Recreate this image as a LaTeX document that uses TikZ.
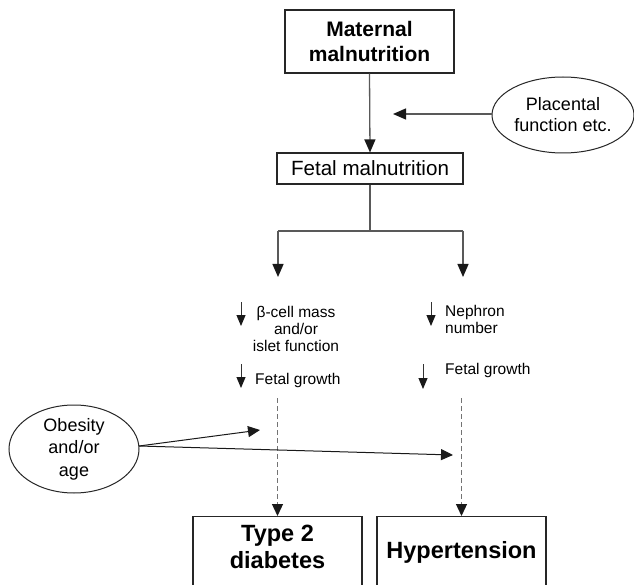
\documentclass[tikz,border=0pt]{standalone}
\usepackage{fontspec}
\setmainfont{Liberation Sans}
\usetikzlibrary{arrows.meta,shapes.geometric}
\tikzset{
  boxnode/.style={draw=black!85, line width=1.1pt, inner sep=0pt},
  ellnode/.style={draw=black!85, line width=1pt, ellipse, inner sep=0pt},
  conn/.style={draw=black!65, line width=1.3pt},
  arr/.style={conn, -{Triangle[length=13pt,width=11pt,color=black!90]}},
  smallarr/.style={draw=black!80, line width=1pt, -{Triangle[length=11pt,width=9pt,color=black!90]}},
  dasharr/.style={draw=black!55, line width=1.3pt, dash pattern=on 5pt off 3pt, -{Triangle[length=12pt,width=11pt,color=black!90]}},
  obarr/.style={draw=black!90, line width=1pt, -{Triangle[length=12pt,width=11pt,color=black!90]}},
  bigbold/.style={font=\fontsize{21}{25}\selectfont\bfseries, align=center},
  biggerbold/.style={font=\fontsize{23.5}{27}\selectfont\bfseries, align=center},
  midtext/.style={font=\fontsize{20.6}{24}\selectfont, align=center},
  elltext/.style={font=\fontsize{18}{21}\selectfont, align=center},
  smalltext/.style={font=\fontsize{15.5}{17}\selectfont},
}
\begin{document}
\begin{tikzpicture}[x=1pt,y=-1pt]
\clip (0,0) rectangle (634,585);
\fill[white] (0,0) rectangle (634,585);

% top boxes
\node[boxnode, bigbold, minimum width=169pt, minimum height=63pt] (mat) at (369.5,41.5) {Maternal\\malnutrition};
\node[boxnode, midtext, minimum width=186pt, minimum height=31pt] (fet) at (370,168.5) {Fetal malnutrition};
\node[ellnode, elltext, minimum width=142pt, minimum height=76pt] (plac) at (563,115) {Placental\\function etc.};
\coordinate (platip) at (393,114);

\draw[arr] (mat.south) -- (fet.north);
\draw[arr] (plac.west |- platip) -- (platip);

% branch
\coordinate (br) at (370,231);
\coordinate (brL) at (278,231);
\coordinate (brR) at (463,231);
\coordinate (tipL) at (278,277);
\coordinate (tipR) at (463,277);
\draw[conn] (fet.south) -- (br);
\draw[conn] (brL) -- (brR);
\draw[arr] (brL) -- (tipL);
\draw[arr] (brR) -- (tipR);

% left column texts
\coordinate (s1a) at (241,302); \coordinate (s1b) at (241,326);
\draw[smallarr] (s1a) -- (s1b);
\node[smalltext, align=center] (beta) at (296,328.5) {β-cell mass\\and/or\\islet function};
\coordinate (s2a) at (241,364); \coordinate (s2b) at (241,388);
\draw[smallarr] (s2a) -- (s2b);
\node[smalltext, anchor=west, inner sep=0pt] (fgL) at (255,380) {Fetal growth};

% right column texts
\coordinate (s3a) at (431,302); \coordinate (s3b) at (431,326);
\draw[smallarr] (s3a) -- (s3b);
\node[smalltext, align=left, anchor=west, inner sep=0pt] (neph) at (445,319.5) {Nephron\\number};
\coordinate (s4a) at (423,364); \coordinate (s4b) at (423,389);
\draw[smallarr] (s4a) -- (s4b);
\node[smalltext, anchor=west, inner sep=0pt] (fgR) at (445,370) {Fetal growth};

% bottom boxes
\node[boxnode, minimum width=169pt, minimum height=80pt, anchor=north] (t2) at (277.5,516) {};
\node[biggerbold] (t2txt) at (277.5,546.5) {Type 2\\diabetes};
\node[boxnode, minimum width=169pt, minimum height=80pt, anchor=north] (hyp) at (461.5,516) {};
\node[biggerbold] (hyptxt) at (461.5,552) {Hypertension};

\coordinate (dL) at (277.5,398);
\coordinate (dR) at (461.5,398);
\draw[dasharr] (dL) -- (t2.north);
\draw[dasharr] (dR) -- (hyp.north);

% obesity
\node[ellnode, elltext, minimum width=130pt, minimum height=88pt, font=\fontsize{18}{22.5}\selectfont] (obe) at (74,449) {Obesity\\and/or\\age};
\coordinate (obs) at (139,446);
\coordinate (obt1) at (260,430);
\coordinate (obt2) at (453,455);
\draw[obarr] (obs) -- (obt1);
\draw[obarr] (obs) -- (obt2);
\end{tikzpicture}
\end{document}
